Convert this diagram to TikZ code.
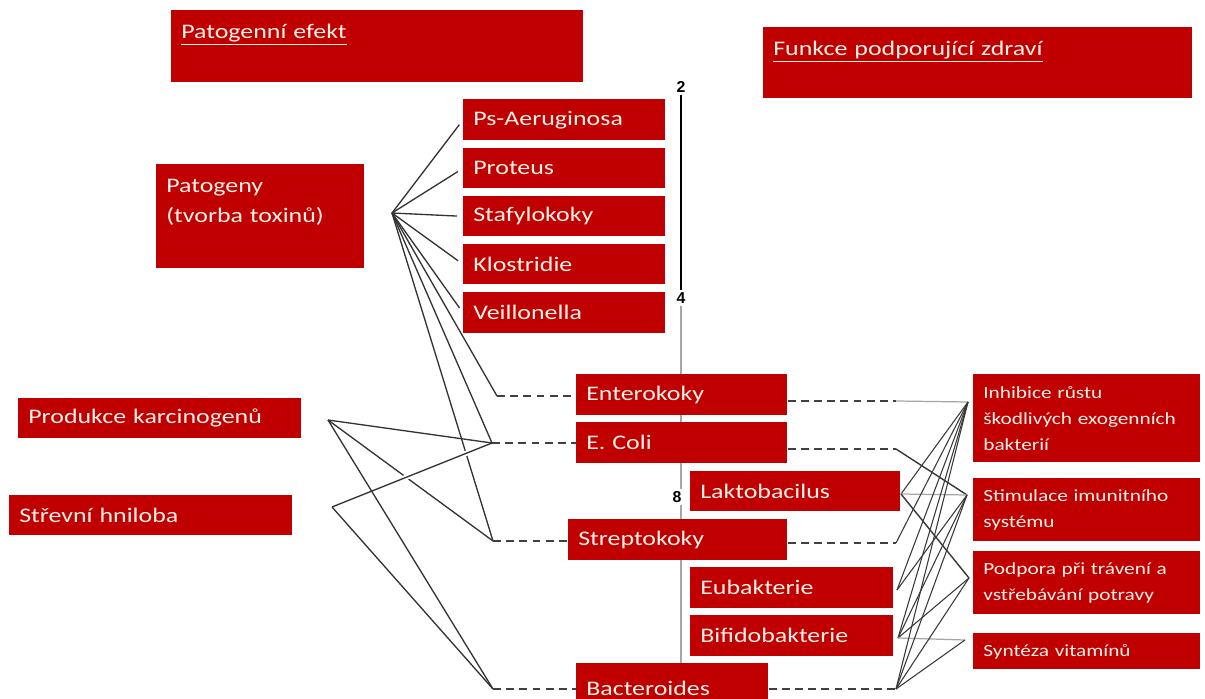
\documentclass[tikz,border=0pt]{standalone}
\usepackage{fontspec}
\newfontfamily\boxfont{Carlito}[FakeStretch=1.25]
\newfontfamily\numfont{Liberation Sans}
\usetikzlibrary{backgrounds,calc}
\definecolor{boxred}{RGB}{192,0,0}
\definecolor{boxtext}{RGB}{255,240,232}

\begin{document}
\begin{tikzpicture}[
    x=0.02cm, y=-0.02cm,
    redbox/.style={fill=boxred, text=boxtext, anchor=north west, inner xsep=0.2cm, inner ysep=0pt, align=left,
        font=\boxfont\fontsize{11.8}{17}\selectfont},
    headbox/.style={redbox, inner ysep=0.2cm, text height=0.36cm},
    smallbox/.style={redbox, font=\boxfont\fontsize{9.7}{14.7}\selectfont},
    boxw/.style={minimum width=#1, text width=#1-0.4cm},
    boxh/.style={minimum height=#1},
    num/.style={font=\numfont\bfseries\fontsize{9}{9}\selectfont, inner sep=1pt},
    leftline/.style={draw=black!80, line width=0.75pt},
    rightline/.style={draw=black!78, line width=0.6pt},
    greyline/.style={draw=black!35, line width=0.7pt},
    dashlead/.style={draw=black!75, line width=0.8pt, dash pattern=on 4.5pt off 3pt},
    halo/.style={preaction={draw=white, line width=3pt, shorten <=1.24cm, shorten >=0.4cm}}
]
\useasboundingbox (0,0) rectangle (1205,699);

% headings
\node[headbox, boxw=8.24cm, text depth=0.68cm] (efekt) at (171,10) {\underline{Patogenní efekt}};
\node[headbox, boxw=8.58cm, text depth=0.66cm] (funkce) at (763,27) {\underline{Funkce podporující zdraví}};

% pathogens
\node[redbox, boxw=4.04cm, boxh=0.82cm] (psa) at (463,99) {Ps-Aeruginosa};
\node[redbox, boxw=4.04cm, boxh=0.8cm] (proteus) at (463,148) {Proteus};
\node[redbox, boxw=4.04cm, boxh=0.8cm] (stafylo) at (463,196) {Stafylokoky};
\node[redbox, boxw=4.04cm, boxh=0.8cm] (klostr) at (463,244) {Klostridie};
\node[redbox, boxw=4.04cm, boxh=0.82cm] (veill) at (463,292) {Veillonella};

% effects on the left
\node[headbox, boxw=4.16cm, text depth=1.32cm] (patogeny) at (156,164) {Patogeny\\(tvorba toxinů)};
\node[redbox, boxw=5.66cm, boxh=0.8cm] (karcin) at (18,398) {Produkce karcinogenů};
\node[redbox, boxw=5.66cm, boxh=0.8cm] (hniloba) at (9,495) {Střevní hniloba};

% scale
\node[num] (n2) at (681,87) {2};
\node[num] (n4) at (681,298) {4};
\node[num] (n8) at (677,497) {8};
\coordinate (axisend) at (681,699);
\draw[line width=1.2pt] (n2.south) -- (n4.north);
\begin{scope}[on background layer]
  \fill[white] (0,0) rectangle (1205,699);
  \draw[greyline] (n4.south) -- (n4.south |- n8.north);
  \draw[greyline] (n4.south |- n8.south) -- (axisend);
\end{scope}

% intestinal flora
\node[redbox, boxw=4.22cm, boxh=0.82cm] (entero) at (576,374) {Enterokoky};
\node[redbox, boxw=4.22cm, boxh=0.82cm] (ecoli) at (576,422) {E. Coli};
\node[redbox, boxw=4.2cm, boxh=0.8cm] (lakto) at (690,471) {Laktobacilus};
\node[redbox, boxw=4.38cm, boxh=0.82cm] (strepto) at (568,519) {Streptokoky};
\node[redbox, boxw=4.06cm, boxh=0.82cm] (eubakt) at (690,567) {Eubakterie};
\node[redbox, boxw=4.06cm, boxh=0.82cm] (bifido) at (690,615) {Bifidobakterie};
\node[redbox, boxw=3.84cm, boxh=1cm] (bactero) at (576,663) {Bacteroides};

% health functions
\node[smallbox, boxw=4.54cm, boxh=1.76cm] (inhib) at (973,374) {Inhibice růstu\\škodlivých exogenních\\bakterií};
\node[smallbox, boxw=4.54cm, boxh=1.26cm] (stimul) at (973,478) {Stimulace imunitního\\systému};
\node[smallbox, boxw=4.54cm, boxh=1.26cm] (podpora) at (973,551) {Podpora při trávení a\\vstřebávání potravy};
\node[smallbox, boxw=4.54cm, boxh=0.72cm] (syntez) at (973,633) {Syntéza vitamínů};

% left fan
\coordinate (pathub) at (392,213);
\coordinate (karhub) at (328,420);
\coordinate (hnihub) at (332,507);
\coordinate (ent-l) at (497,396);
\coordinate (eco-l) at (492,443);
\coordinate (str-l) at (493,541);
\coordinate (bac-l) at (493,689);

\foreach \t in {psa,proteus,stafylo,klostr,veill}
  \draw[leftline, shorten >=0.12cm] (pathub) -- (\t.west);
\draw[leftline] (pathub) -- (ent-l);
\draw[leftline] (pathub) -- (eco-l);
\draw[leftline] (pathub) -- (str-l);
\draw[leftline] (karhub) -- (eco-l);
\draw[leftline] (karhub) -- (str-l);
\draw[leftline] (karhub) -- (bac-l);
\draw[leftline] (hnihub) -- (bac-l);
\draw[leftline, halo] (hnihub) -- (eco-l);

\draw[dashlead] (ent-l) -- (ent-l -| entero.west);
\draw[dashlead] (eco-l) -- (eco-l -| ecoli.west);
\draw[dashlead] (str-l) -- (str-l -| strepto.west);
\draw[dashlead] (bac-l) -- (bac-l -| bactero.west);

% right fan
\coordinate (ent-r) at (896,401);
\coordinate (eco-r) at (896,449);
\coordinate (str-r) at (896,543);
\coordinate (bac-r) at (896,689);
\coordinate (lak-r) at (901,494);
\coordinate (eub-r) at (897,590);
\coordinate (bif-r) at (898,638);
\coordinate (inhhub) at (968,402);
\coordinate (stihub) at (967,495);
\coordinate (podhub) at (969,578);
\coordinate (synhub) at (965,640);

\draw[dashlead] (ent-r -| entero.east) -- (ent-r);
\draw[dashlead] (eco-r -| ecoli.east) -- (eco-r);
\draw[dashlead] (str-r -| strepto.east) -- (str-r);
\draw[dashlead] (bac-r -| bactero.east) -- (bac-r);

\draw[greyline] (ent-r) -- (inhhub);
\draw[rightline, line width=0.8pt] (eco-r) -- (stihub);
\draw[rightline] (lak-r) -- (inhhub);
\draw[greyline] (lak-r) -- (stihub);
\draw[rightline, line width=0.8pt] (lak-r) -- (podhub);
\draw[rightline] (str-r) -- (inhhub);
\foreach \h in {inhhub,stihub}
  \draw[rightline] (eub-r) -- (\h);
\foreach \h in {inhhub,stihub,podhub}
  \draw[rightline] (bif-r) -- (\h);
\draw[greyline] (bif-r) -- (synhub);
\foreach \h in {inhhub,stihub,podhub,synhub}
  \draw[rightline] (bac-r) -- (\h);

\end{tikzpicture}
\end{document}
